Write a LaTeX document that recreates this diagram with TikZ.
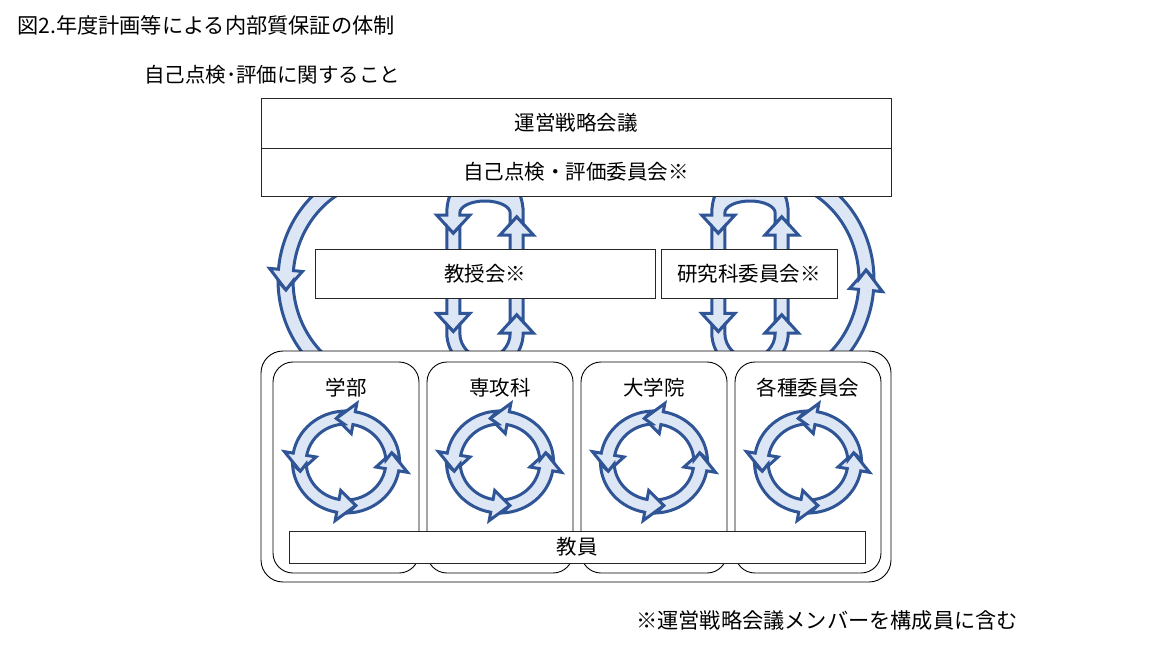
\documentclass[tikz,border=0pt]{standalone}
\usepackage{fontspec}
\setmainfont{Noto Sans CJK JP}
\definecolor{arrowline}{HTML}{2F5597}
\definecolor{arrowfill}{HTML}{DCE6F4}
\newcommand\cyclering[2]{%
 \begin{scope}[shift={(#1,#2)}, xscale=1.05]
  \foreach \t in {-12,-102,-192,-282} {
    \draw[blk] (\t+99.5:51) arc[start angle=\t+99.5, end angle=\t+22, radius=51]
      -- (\t+22:59.5) -- (\t:44.5) -- (\t+22:29) -- (\t+22:38)
      arc[start angle=\t+22, end angle=\t+99.2, radius=38] -- (\t+90:44.5) -- cycle;
  }
 \end{scope}}
\newcommand\looppair[1]{%
 \begin{scope}[shift={(#1,0)}]
  \draw[blk] (25.2,255) -- (25.2,235) -- (15,235) -- (31.7,216.7) -- (48.4,235) -- (38.2,235) -- (38.2,255) -- cycle;
  \draw[blk] (25.2,223.8) -- (31.7,216.7) -- (38.2,223.8) -- (38.2,213)
    arc[start angle=0, end angle=-180, x radius=38.2, y radius=45]
    -- (-38.2,215) -- (-48.4,215) -- (-31.7,233.3) -- (-15,215) -- (-25.2,215) -- (-25.2,213)
    arc[start angle=-180, end angle=0, x radius=25.2, y radius=12] -- cycle;
  \draw[blk] (-38.2,226.2) -- (-31.7,233.3) -- (-25.2,226.2) -- (-25.2,255) -- (-38.2,255) -- cycle;
  \draw[blk] (-38.2,290) -- (-38.2,313.3) -- (-48.4,313.3) -- (-31.7,331.6) -- (-15,313.3) -- (-25.2,313.3) -- (-25.2,290) -- cycle;
  \draw[blk] (-38.2,324.5) -- (-31.7,331.6) -- (-25.2,324.5) -- (-25.2,333)
    arc[start angle=180, end angle=0, radius=25.2]
    -- (15,333) -- (31.7,314.7) -- (48.4,333) -- (38.2,333)
    arc[start angle=0, end angle=180, radius=38.2] -- cycle;
  \draw[blk] (25.2,321.8) -- (31.7,314.7) -- (38.2,321.8) -- (38.2,290) -- (25.2,290) -- cycle;
 \end{scope}}
\begin{document}
\begin{tikzpicture}[x=1pt,y=-1pt,
  blk/.style={draw=arrowline, fill=arrowfill, line width=3pt, line join=miter},
  box/.style={draw=black!85, line width=0.9pt, fill=white, inner sep=0pt},
  rbox/.style={draw=black, line width=0.9pt, fill=white, inner sep=0pt},
  lbl/.style={font=\fontsize{20.5}{24}\selectfont, inner sep=0pt, text=black},
  biglbl/.style={font=\fontsize{21.2}{25}\selectfont, inner sep=0pt, text=black}]
\useasboundingbox[fill=white] (0,0) rectangle (1152,648);

% texts outside
\node[biglbl, anchor=west] (title) at (17,25) {図2.年度計画等による内部質保証の体制};
\node[lbl, anchor=west] (hdr) at (144,75) {自己点検･評価に関すること};
\node[biglbl, anchor=west] (note) at (636,620) {※運営戦略会議メンバーを構成員に含む};

% big left arc
\begin{scope}[shift={(385.5,280)}]
  \draw[blk] (-117:107.5 and 114.5) arc[start angle=-117, end angle=-174.6, x radius=107.5, y radius=114.5]
    -- (-174.6:116.5 and 123.5) -- (-185.4:100 and 107) -- (-174.6:83.5 and 90.5) -- (-174.6:92.5 and 99.5)
    arc[start angle=-174.6, end angle=-117, x radius=92.5, y radius=99.5] -- cycle;
  \draw[blk] (-180.5:107.5 and 114.5) arc[start angle=-180.5, end angle=-243, x radius=107.5, y radius=114.5]
    -- (-243:92.5 and 99.5) arc[start angle=-243, end angle=-180.5, x radius=92.5, y radius=99.5]
    -- (-185.4:100 and 107) -- cycle;
\end{scope}
% big right arc
\begin{scope}[shift={(766.5,280)}]
  \draw[blk] (63:107.5 and 114.5) arc[start angle=63, end angle=5.4, x radius=107.5, y radius=114.5]
    -- (5.4:116.5 and 123.5) -- (-5.4:100 and 107) -- (5.4:83.5 and 90.5) -- (5.4:92.5 and 99.5)
    arc[start angle=5.4, end angle=63, x radius=92.5, y radius=99.5] -- cycle;
  \draw[blk] (-0.5:107.5 and 114.5) arc[start angle=-0.5, end angle=-63, x radius=107.5, y radius=114.5]
    -- (-63:92.5 and 99.5) arc[start angle=-63, end angle=-0.5, x radius=92.5, y radius=99.5]
    -- (-5.4:100 and 107) -- cycle;
\end{scope}

% loops
\looppair{485}
\looppair{750}

% boxes
\node[box, lbl, minimum width=630pt, minimum height=50pt] (unei) at (576,123) {運営戦略会議};
\node[box, lbl, minimum width=630pt, minimum height=48pt] (jiko) at (576,172) {自己点検・評価委員会※};
\node[box, lbl, minimum width=340pt, minimum height=49pt] (kyoju) at (485,273.5) {教授会※};
\node[box, lbl, minimum width=176pt, minimum height=49pt] (kenkyu) at (749,273.5) {研究科委員会※};

\node[rbox, rounded corners=22pt, minimum width=630pt, minimum height=231pt] (outer) at (576,466.5) {};
\foreach \cx/\nm/\txt in {346/gakubu/学部, 500/senko/専攻科, 654/daigakuin/大学院, 808/kakushu/各種委員会} {
  \node[rbox, rounded corners=20pt, minimum width=146pt, minimum height=211pt] (\nm) at (\cx,467.5) {};
  \node[lbl] (\nm-t) at (\cx,388) {\txt};
  \cyclering{\cx}{462}
}
\node[box, lbl, minimum width=576pt, minimum height=32pt] (kyoin) at (577,547) {教員};
\end{tikzpicture}
\end{document}
